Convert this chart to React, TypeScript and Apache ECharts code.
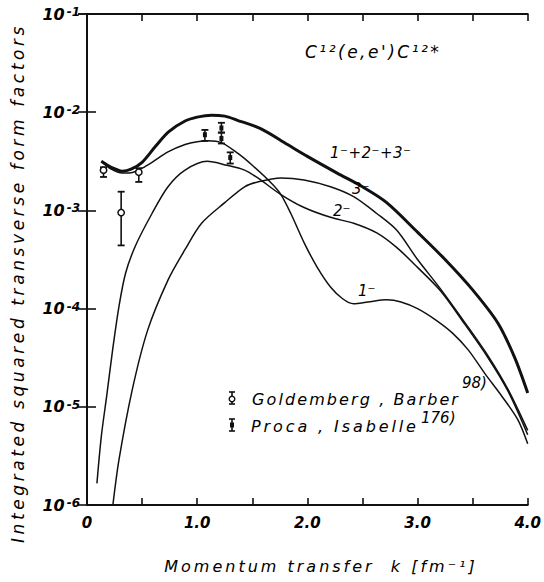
import React, { useEffect, useRef } from 'react';
import * as echarts from 'echarts';

// ---- data ----
// momentum transfer k [fm^-1] and integrated squared transverse form factors
const K_TOTAL = [0.13, 0.22, 0.32, 0.40, 0.50, 0.62, 0.74, 0.89, 1.00, 1.13, 1.25, 1.36, 1.58, 1.82, 2.00, 2.27, 2.50, 2.72, 3.00, 3.25, 3.50, 3.73, 3.88, 4.00];
const F_TOTAL = [3.16e-3, 2.75e-3, 2.51e-3, 2.63e-3, 3.09e-3, 4.47e-3, 6.31e-3, 8.13e-3, 8.91e-3, 9.33e-3, 9.12e-3, 8.32e-3, 6.76e-3, 4.68e-3, 3.55e-3, 2.40e-3, 1.74e-3, 1.20e-3, 6.0e-4, 3.16e-4, 1.55e-4, 7.1e-5, 3.2e-5, 1.38e-5];

const K_1 = [0.13, 0.22, 0.32, 0.42, 0.50, 0.59, 0.735, 0.89, 1.00, 1.10, 1.22, 1.37, 1.50, 1.67, 1.76, 1.85, 1.97, 2.09, 2.21, 2.32, 2.42, 2.55, 2.72, 2.85, 3.00, 3.17, 3.32, 3.46, 3.61, 3.77, 3.91, 4.00];
const F_1 = [3.16e-3, 2.63e-3, 2.40e-3, 2.45e-3, 2.69e-3, 3.09e-3, 3.94e-3, 4.68e-3, 5.01e-3, 5.13e-3, 4.90e-3, 3.80e-3, 2.88e-3, 1.91e-3, 1.45e-3, 9.3e-4, 4.7e-4, 2.63e-4, 1.66e-4, 1.26e-4, 1.12e-4, 1.17e-4, 1.23e-4, 1.17e-4, 1.0e-4, 7.6e-5, 5.6e-5, 3.8e-5, 2.19e-5, 1.26e-5, 7.4e-6, 4.2e-6];

const K_2 = [0.09, 0.13, 0.18, 0.235, 0.29, 0.35, 0.44, 0.59, 0.735, 0.89, 1.09, 1.27, 1.43, 1.55, 1.76, 1.97, 2.21, 2.42, 2.63, 2.81, 3.00, 3.21, 3.43, 3.64, 3.82, 4.00];
const F_2 = [1.66e-6, 5.0e-6, 1.32e-5, 3.98e-5, 1.05e-4, 2.29e-4, 4.37e-4, 9.3e-4, 1.74e-3, 2.57e-3, 3.16e-3, 2.88e-3, 2.57e-3, 2.14e-3, 1.45e-3, 1.07e-3, 8.5e-4, 7.4e-4, 5.9e-4, 4.2e-4, 2.63e-4, 1.51e-4, 6.9e-5, 3.16e-5, 1.45e-5, 5.2e-6];

const K_3 = [0.235, 0.29, 0.41, 0.55, 0.735, 0.89, 1.04, 1.25, 1.43, 1.55, 1.76, 1.97, 2.21, 2.42, 2.63, 2.81, 3.00, 3.21, 3.43, 3.64, 3.82, 4.00];
const F_3 = [1.0e-6, 2.88e-6, 1.48e-5, 6.0e-5, 1.95e-4, 4.0e-4, 7.4e-4, 1.20e-3, 1.74e-3, 1.95e-3, 2.14e-3, 2.04e-3, 1.74e-3, 1.38e-3, 9.3e-4, 6.3e-4, 3.16e-4, 1.58e-4, 7.2e-5, 3.3e-5, 1.51e-5, 5.75e-6];

// Goldemberg, Barber (open circles)
const GB_K = [0.15, 0.31, 0.47];
const GB_V = [2.57e-3, 9.5e-4, 2.45e-3];
const GB_LO = [2.19e-3, 4.4e-4, 1.95e-3];
const GB_HI = [2.75e-3, 1.55e-3, 2.69e-3];

// Proca, Isabelle
const PI_K = [1.07, 1.22, 1.22, 1.30];
const PI_V = [5.9e-3, 6.9e-3, 5.4e-3, 3.45e-3];
const PI_LO = [5.1e-3, 6.2e-3, 4.8e-3, 3.0e-3];
const PI_HI = [6.6e-3, 7.8e-3, 6.2e-3, 3.9e-3];

const X_MIN = 0;
const X_MAX = 4;
const X_STEP = 0.5;
const Y_MIN = 1e-6;
const Y_MAX = 1e-1;

const TITLE = "C¹²(e,e')C¹²*";
const X_TITLE = 'Momentum transfer  k [fm⁻¹]';
const Y_TITLE = 'Integrated squared transverse form factors';
const LBL_SUM = '1⁻+2⁻+3⁻';
const LBL_3 = '3⁻';
const LBL_2 = '2⁻';
const LBL_1 = '1⁻';
const LEG_GB = 'Goldemberg , Barber';
const LEG_GB_REF = '98)';
const LEG_PI = 'Proca , Isabelle';
const LEG_PI_REF = '176)';

const FONT = '"DejaVu Sans", sans-serif';
const INK = '#111';

const SPACING: Record<string, number> = {
  [TITLE]: 2.5,
  [X_TITLE]: 3,
  [Y_TITLE]: 3.6,
  [LEG_GB]: 2.1,
  [LEG_PI]: 2.9,
  [LBL_SUM]: 0.5,
};

const zip = (k: number[], v: number[]) => k.map((x, i) => [x, v[i]]);

const txt = (text: string, x: number, y: number, size: number, o: any = {}) => ({
  type: 'text',
  x,
  y,
  rotation: o.rotation || 0,
  silent: true,
  z: 50,
  style: {
    text,
    fontSize: size,
    fontFamily: FONT,
    fontStyle: 'italic',
    fontWeight: o.weight || 'normal',
    fill: '#000',
    textAlign: o.align || 'left',
    align: o.align || 'left',
    textVerticalAlign: 'middle',
    verticalAlign: 'middle',
  },
});

const errRender = (kind: 'gb' | 'pi') => (params: any, api: any) => {
  const p = api.coord([api.value(0), api.value(1)]);
  const lo = api.coord([api.value(0), api.value(2)]);
  const hi = api.coord([api.value(0), api.value(3)]);
  const w = 3.5;
  const st = { stroke: INK, lineWidth: 1.6 };
  const children: any[] = [
    { type: 'line', shape: { x1: p[0], y1: lo[1], x2: p[0], y2: hi[1] }, style: st },
    { type: 'line', shape: { x1: p[0] - w, y1: lo[1], x2: p[0] + w, y2: lo[1] }, style: { stroke: INK, lineWidth: 1.8 } },
    { type: 'line', shape: { x1: p[0] - w, y1: hi[1], x2: p[0] + w, y2: hi[1] }, style: { stroke: INK, lineWidth: 1.8 } },
  ];
  if (kind === 'gb') {
    children.push({ type: 'circle', shape: { cx: p[0], cy: p[1], r: 3.2 }, style: { fill: '#fff', stroke: INK, lineWidth: 1.5 } });
  } else {
    children.push({ type: 'rect', shape: { x: p[0] - 2, y: p[1] - 2.5, width: 4, height: 5 }, style: { fill: INK } });
  }
  return { type: 'group', children };
};

const legendSymbol = (kind: 'gb' | 'pi', cx: number, cy: number) => {
  const st = { stroke: INK, lineWidth: 1.6 };
  const children: any[] = [
    { type: 'line', shape: { x1: cx, y1: cy - 6, x2: cx, y2: cy + 6 }, style: st },
    { type: 'line', shape: { x1: cx - 3, y1: cy - 6, x2: cx + 3, y2: cy - 6 }, style: st },
    { type: 'line', shape: { x1: cx - 3, y1: cy + 6, x2: cx + 3, y2: cy + 6 }, style: st },
  ];
  if (kind === 'gb') {
    children.push({ type: 'circle', shape: { cx, cy: cy + 1, r: 2.8 }, style: { fill: '#fff', stroke: INK, lineWidth: 1.4 } });
  } else {
    children.push({ type: 'rect', shape: { x: cx - 2, y: cy - 2.5, width: 4, height: 5 }, style: { fill: INK } });
  }
  return { type: 'group', silent: true, z: 50, children };
};

export default function App() {
  const ref = useRef<HTMLDivElement>(null);

  useEffect(() => {
    const el = ref.current!;
    const chart = echarts.init(el, null, { renderer: 'svg', width: 544, height: 582 });

    const axisLine = { show: true, lineStyle: { color: INK, width: 2 } };
    const xAxisBase = {
      type: 'value',
      min: X_MIN,
      max: X_MAX,
      interval: X_STEP,
      splitLine: { show: false },
      axisLine,
      axisTick: { show: true, inside: true, length: 7, lineStyle: { color: INK, width: 1.6 } },
    };
    const yAxisBase = {
      type: 'log',
      logBase: 10,
      min: Y_MIN,
      max: Y_MAX,
      splitLine: { show: false },
      minorTick: { show: false },
      axisLine,
      axisTick: { show: true, inside: true, length: 9, lineStyle: { color: INK, width: 1.6 } },
    };

    const lineSeries = (k: number[], v: number[], width: number) => ({
      type: 'line',
      data: zip(k, v),
      smooth: 0.3,
      showSymbol: false,
      symbol: 'none',
      clip: true,
      lineStyle: { color: INK, width },
      xAxisIndex: 0,
      yAxisIndex: 0,
      silent: true,
    });

    const option: any = {
      animation: false,
      backgroundColor: '#fff',
      grid: { left: 87, right: 11, top: 14, bottom: 77, containLabel: false },
      xAxis: [
        {
          ...xAxisBase,
          position: 'bottom',
          axisLabel: {
            show: true,
            margin: 10,
            fontSize: 15,
            fontStyle: 'italic',
            fontWeight: 'bold',
            fontFamily: FONT,
            color: '#000',
            formatter: (v: number) => (Math.abs(v - Math.round(v)) < 1e-9 ? (v === 0 ? '0' : v.toFixed(1)) : ''),
          },
        },
        { ...xAxisBase, position: 'top', axisLabel: { show: false } },
      ],
      yAxis: [
        {
          ...yAxisBase,
          position: 'left',
          axisLabel: {
            show: true,
            margin: 7,
            formatter: (v: number) => '{b|10}{s|' + Math.round(Math.log10(v)) + '}',
            rich: {
              b: { fontSize: 16, fontStyle: 'italic', fontWeight: 'bold', fontFamily: FONT, color: '#000', lineHeight: 16, verticalAlign: 'bottom' },
              s: { fontSize: 12, fontStyle: 'italic', fontWeight: 'bold', fontFamily: FONT, color: '#000', lineHeight: 12, verticalAlign: 'top', padding: [0, 0, 10, 2] },
            },
          },
        },
        { ...yAxisBase, position: 'right', axisLabel: { show: false } },
      ],
      series: [
        lineSeries(K_TOTAL, F_TOTAL, 3),
        lineSeries(K_1, F_1, 1.5),
        lineSeries(K_2, F_2, 1.5),
        lineSeries(K_3, F_3, 1.5),
        {
          type: 'custom',
          xAxisIndex: 0,
          yAxisIndex: 0,
          silent: true,
          z: 5,
          encode: { x: 0, y: 1 },
          data: GB_K.map((k, i) => [k, GB_V[i], GB_LO[i], GB_HI[i]]),
          renderItem: errRender('gb'),
        },
        {
          type: 'custom',
          xAxisIndex: 0,
          yAxisIndex: 0,
          silent: true,
          z: 5,
          encode: { x: 0, y: 1 },
          data: PI_K.map((k, i) => [k, PI_V[i], PI_LO[i], PI_HI[i]]),
          renderItem: errRender('pi'),
        },
      ],
      graphic: [
        txt(TITLE, 305, 52, 17),
        txt(X_TITLE, 321, 566, 16, { align: 'center' }),
        txt(Y_TITLE, 18, 283, 17, { align: 'center', rotation: Math.PI / 2 }),
        txt(LBL_SUM, 330, 153, 15),
        txt(LBL_3, 352, 189, 15),
        txt(LBL_2, 333, 211, 15),
        txt(LBL_1, 358, 291, 15),
        txt(LEG_GB, 252, 399, 16),
        txt(LEG_GB_REF, 462, 383, 15),
        txt(LEG_PI, 251, 426, 16),
        txt(LEG_PI_REF, 421, 418, 15),
        legendSymbol('gb', 232, 398),
        legendSymbol('pi', 232, 425),
      ],
    };

    chart.setOption(option);

    const apply = () => {
      el.querySelectorAll('text').forEach((t) => {
        const s = SPACING[(t.textContent || '').trim()];
        if (s !== undefined) (t as SVGTextElement).style.letterSpacing = s + 'px';
      });
    };
    apply();
    chart.on('finished', apply);
    const raf = requestAnimationFrame(apply);

    return () => {
      cancelAnimationFrame(raf);
      chart.dispose();
    };
  }, []);

  return (
    <div
      ref={ref}
      style={{ position: 'fixed', left: 0, top: 0, width: 544, height: 582, background: '#fff' }}
    />
  );
}
